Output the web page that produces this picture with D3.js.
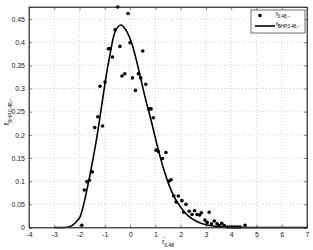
<!DOCTYPE html>
<html><head><meta charset="utf-8">
<script src="https://cdn.jsdelivr.net/npm/d3@7"></script>
<style>body{margin:0;background:#fff}svg{display:block;font-family:"Liberation Sans",Arial,sans-serif}</style>
</head><body><svg id="c" width="313" height="250"></svg>
<script>
const xTicks = [-4,-3,-2,-1,0,1,2,3,4,5,6,7];
const yTicks = [0,0.05,0.1,0.15,0.2,0.25,0.3,0.35,0.4,0.45];
const yTickLabels = ["0","0.05","0.1","0.15","0.2","0.25","0.3","0.35","0.4","0.45"];
const pointX = [-1.91,-1.81,-1.71,-1.61,-1.50,-1.40,-1.28,-1.09,-1.19,-0.99,-0.86,-0.79,-0.70,-0.59,-0.49,-0.40,-0.32,-0.21,-0.08,0.00,0.09,0.21,0.33,0.42,0.50,0.62,0.75,0.83,0.92,1.03,1.12,1.28,1.42,1.53,1.62,1.73,1.82,1.91,2.05,2.12,2.21,2.34,2.45,2.55,2.65,2.75,2.82,2.96,3.05,3.13,3.22,3.33,3.44,3.53,3.63,3.73,3.85,3.95,4.05,4.15,4.25,4.35,4.55];
const pointY = [0.005,0.081,0.099,0.102,0.120,0.216,0.239,0.219,0.305,0.314,0.386,0.386,0.368,0.427,0.476,0.391,0.327,0.332,0.462,0.399,0.323,0.296,0.332,0.323,0.381,0.309,0.256,0.256,0.237,0.167,0.164,0.149,0.162,0.100,0.103,0.068,0.055,0.068,0.058,0.033,0.050,0.035,0.028,0.036,0.028,0.027,0.032,0.016,0.011,0.033,0.008,0.014,0.008,0.004,0.009,0.004,0.001,0.001,0.001,0.001,0.001,0.001,0.005];
const curveX = [-3,-2.8,-2.5,-2.3,-2.1,-1.98,-1.8,-1.71,-1.6,-1.45,-1.3,-1.19,-1.05,-0.92,-0.8,-0.66,-0.5,-0.36,-0.2,0.07,0.33,0.59,0.86,1.12,1.38,1.65,1.98,2.3,2.6,3.0,3.4,3.8,4.2,5,6,7];
const curveY = [0,0,0.0005,0.004,0.014,0.023,0.058,0.081,0.11,0.153,0.2,0.239,0.29,0.336,0.372,0.411,0.432,0.437,0.429,0.397,0.343,0.282,0.225,0.167,0.117,0.077,0.045,0.025,0.014,0.006,0.0025,0.001,0.0003,0,0,0];

const svg = d3.select("#c");
const L=29,R=307,T=7,B=227.5;
const x = d3.scaleLinear().domain([-4,7]).range([L,R]);
const y = d3.scaleLinear().domain([0,0.476]).range([B,T]);

// grid
const g = svg.append("g");
g.selectAll(".vg").data(xTicks.slice(1,-1)).enter().append("line")
 .attr("x1",d=>x(d)).attr("x2",d=>x(d)).attr("y1",T).attr("y2",B)
 .attr("stroke","#c8c8c8").attr("stroke-width",0.8).attr("stroke-dasharray","1,2");
g.selectAll(".hg").data(yTicks.slice(1)).enter().append("line")
 .attr("x1",L).attr("x2",R).attr("y1",d=>y(d)).attr("y2",d=>y(d))
 .attr("stroke","#c8c8c8").attr("stroke-width",0.8).attr("stroke-dasharray","1,2");

// axes
const xa = svg.append("g").attr("transform",`translate(0,${B})`)
 .call(d3.axisBottom(x).tickValues(xTicks).tickSize(-3).tickPadding(5).tickFormat(d=>d<0?"-"+Math.abs(d):d));
const ya = svg.append("g").attr("transform",`translate(${L},0)`)
 .call(d3.axisLeft(y).tickValues(yTicks).tickSize(-3).tickPadding(4).tickFormat((d,i)=>yTickLabels[i]));
svg.append("g").attr("transform",`translate(0,${T})`)
 .call(d3.axisTop(x).tickValues(xTicks).tickSize(-3).tickFormat(""));
svg.append("g").attr("transform",`translate(${R},0)`)
 .call(d3.axisRight(y).tickValues(yTicks).tickSize(-3).tickFormat(""));
svg.selectAll(".domain").attr("stroke","#333").attr("stroke-width",0.8);
svg.selectAll(".tick line").attr("stroke","#333").attr("stroke-width",0.6);
svg.selectAll(".tick text").attr("font-size",7).attr("fill","#222").attr("font-family","'Liberation Sans',Arial,sans-serif");
svg.selectAll(".domain").each(function(){const p=d3.select(this);p.attr("d",p.attr("d").replace(/V[^H]*$|^M[^H]*/,m=>m));});

// curve
const line = d3.line().x((d,i)=>x(curveX[i])).y((d,i)=>y(curveY[i])).curve(d3.curveMonotoneX);
svg.append("path").attr("d",line(curveX)).attr("fill","none").attr("stroke","#000").attr("stroke-width",1.6);

// points
svg.selectAll(".pt").data(pointX).enter().append("circle")
 .attr("cx",d=>x(d)).attr("cy",(d,i)=>y(pointY[i])).attr("r",1.8).attr("fill","#000");

// box outline
svg.append("rect").attr("x",L).attr("y",T).attr("width",R-L).attr("height",B-T)
 .attr("fill","none").attr("stroke","#333").attr("stroke-width",0.8);

// legend
const lg = svg.append("g");
lg.append("rect").attr("x",251).attr("y",10).attr("width",54).attr("height",23)
 .attr("fill","#fff").attr("stroke","#333").attr("stroke-width",0.7);
lg.append("circle").attr("cx",260).attr("cy",15.5).attr("r",1.8).attr("fill","#000");
lg.append("line").attr("x1",255).attr("x2",275).attr("y1",26).attr("y2",26).attr("stroke","#000").attr("stroke-width",1.6);
const t1 = lg.append("text").attr("x",276).attr("y",16).attr("font-size",6);
t1.append("tspan").text("f");
t1.append("tspan").attr("font-size",4.5).attr("dy",2).text("0.48,−");
const t2 = lg.append("text").attr("x",276).attr("y",26).attr("font-size",6);
t2.append("tspan").text("f");
t2.append("tspan").attr("font-size",4.5).attr("dy",2).text("BHP,0.48,−");

// axis labels
const xl = svg.append("text").attr("x",162).attr("y",244).attr("font-size",7);
xl.append("tspan").text("r");
xl.append("tspan").attr("font-size",5).attr("dy",2.5).text("0.48");
svg.append("text").attr("x",163.2).attr("y",238.5).attr("font-size",5).text("−");
const yl = svg.append("text").attr("transform","translate(9,125) rotate(-90)").attr("font-size",7);
yl.append("tspan").text("f");
yl.append("tspan").attr("font-size",5).attr("dy",2.5).text("BHP,0.48,−");
</script></body></html>
